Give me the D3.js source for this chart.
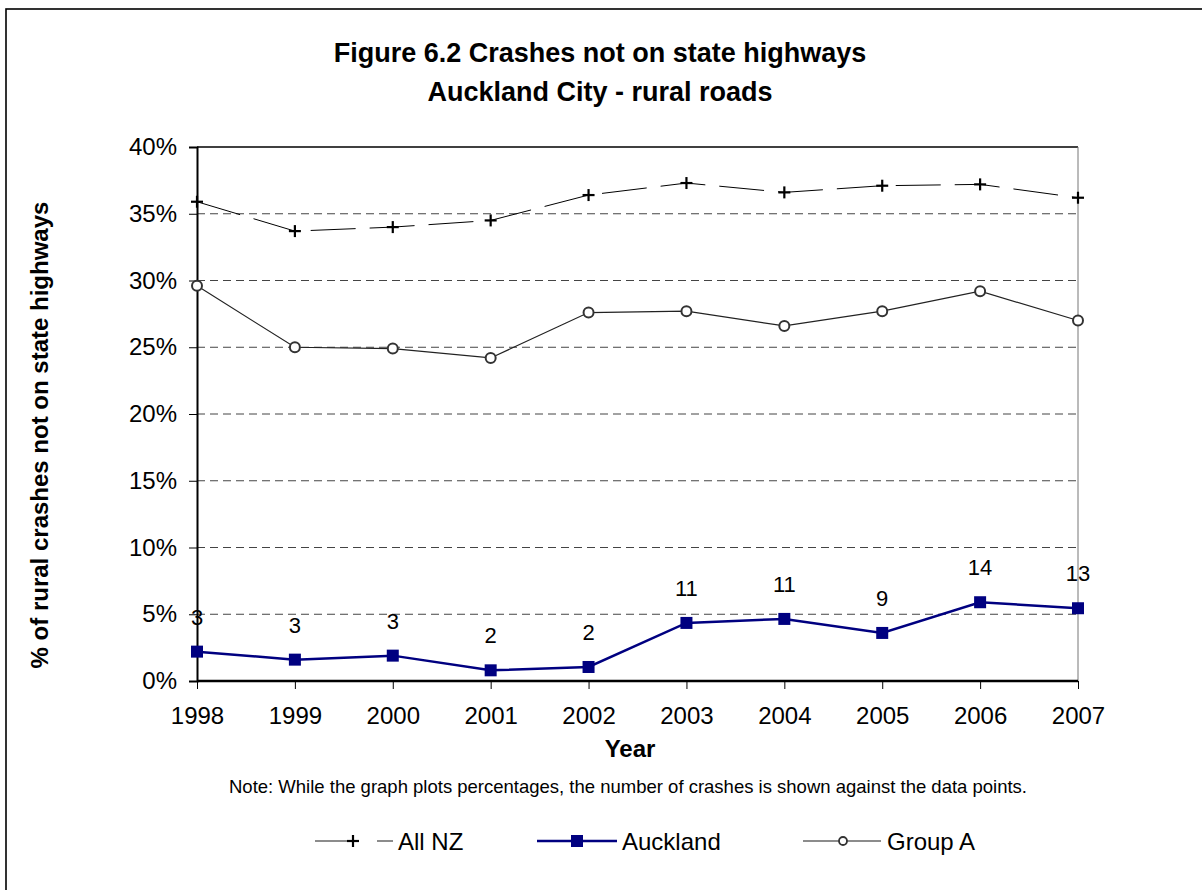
<!DOCTYPE html>
<html><head><meta charset="utf-8">
<script src="https://cdn.jsdelivr.net/npm/d3@7"></script>
<style>body{margin:0;background:#fff}svg{display:block}text{font-family:"Liberation Sans",Arial,sans-serif;fill:#000}</style>
</head><body>
<svg id="c" width="1202" height="890"></svg>
<script>
const years = ["1998","1999","2000","2001","2002","2003","2004","2005","2006","2007"];
const allNZ = [35.9,33.7,34.0,34.5,36.4,37.3,36.6,37.1,37.2,36.2];
const auckland = [2.2,1.6,1.9,0.8,1.05,4.35,4.65,3.6,5.9,5.45];
const groupA = [29.6,25.0,24.9,24.2,27.6,27.7,26.6,27.7,29.2,27.0];
const crashCounts = [3,3,3,2,2,11,11,9,14,13];
const yTicks = [0,5,10,15,20,25,30,35,40];

const FF = "Liberation Sans, Arial, sans-serif";
const svg = d3.select("#c");
// outer frame
svg.append("rect").attr("x",6).attr("y",9).attr("width",1210).attr("height",900)
  .attr("fill","none").attr("stroke","#000").attr("stroke-width",1.6);

const L=197,R=1078,T=147,B=681;
const x = d3.scalePoint().domain(years).range([L,R]);
const y = d3.scaleLinear().domain([0,40]).range([B,T]);

// title
svg.append("text").attr("x",600).attr("y",62).attr("text-anchor","middle")
  .attr("font-size",27).attr("font-weight","bold").text("Figure 6.2 Crashes not on state highways");
svg.append("text").attr("x",600).attr("y",101).attr("text-anchor","middle")
  .attr("font-size",27).attr("font-weight","bold").text("Auckland City - rural roads");

// gridlines
svg.append("g").selectAll("line").data(yTicks.filter(d=>d>0&&d<40)).join("line")
  .attr("x1",L).attr("x2",R).attr("y1",d=>y(d)).attr("y2",d=>y(d))
  .attr("stroke","#444").attr("stroke-width",1).attr("stroke-dasharray","8,5");

// plot border top/right
svg.append("line").attr("x1",L).attr("x2",R).attr("y1",T).attr("y2",T).attr("stroke","#000").attr("stroke-width",1.5);
svg.append("line").attr("x1",R).attr("x2",R).attr("y1",T).attr("y2",B).attr("stroke","#777").attr("stroke-width",1);

// axes
const yAxis = d3.axisLeft(y).tickValues(yTicks).tickFormat(d=>d+"%").tickSize(8).tickPadding(12);
const gy = svg.append("g").attr("transform",`translate(${L},0)`).call(yAxis);
gy.select(".domain").attr("stroke","#000").attr("stroke-width",2);
gy.selectAll(".tick line").attr("stroke","#000");
gy.selectAll("text").attr("font-size",24).attr("font-family",FF).attr("fill","#000");

const xAxis = d3.axisBottom(x).tickSize(8).tickPadding(18);
const gx = svg.append("g").attr("transform",`translate(0,${B})`).call(xAxis);
gx.select(".domain").attr("stroke","#000").attr("stroke-width",2.5).attr("d",`M${L},0H${R}`);
gx.selectAll(".tick line").attr("stroke","#000");
gx.selectAll("text").attr("font-size",24).attr("font-family",FF).attr("fill","#000");

// axis titles
svg.append("text").attr("x",630).attr("y",757).attr("text-anchor","middle")
  .attr("font-size",24).attr("font-weight","bold").text("Year");
svg.append("text").attr("transform","translate(48,435) rotate(-90)").attr("text-anchor","middle")
  .attr("font-size",24).attr("font-weight","bold").text("% of rural crashes not on state highways");

svg.append("text").attr("x",628).attr("y",793).attr("text-anchor","middle")
  .attr("font-size",18.5).text("Note:  While the graph plots percentages, the number of crashes is shown against the data points.");

const line = d3.line().x((d,i)=>x(years[i])).y(d=>y(d));

// All NZ
svg.append("path").datum(allNZ).attr("d",line).attr("fill","none")
  .attr("stroke","#000").attr("stroke-width",1).attr("stroke-dasharray","45,14");
const plus = (g,cx,cy,s)=>{g.append("line").attr("x1",cx-s).attr("x2",cx+s).attr("y1",cy).attr("y2",cy).attr("stroke","#000").attr("stroke-width",2.2);
  g.append("line").attr("x1",cx).attr("x2",cx).attr("y1",cy-s).attr("y2",cy+s).attr("stroke","#000").attr("stroke-width",2.2);};
const gp = svg.append("g");
allNZ.forEach((v,i)=>plus(gp,x(years[i]),y(v),6));

// Group A
svg.append("path").datum(groupA).attr("d",line).attr("fill","none")
  .attr("stroke","#222").attr("stroke-width",1.2);
svg.append("g").selectAll("circle").data(groupA).join("circle")
  .attr("cx",(d,i)=>x(years[i])).attr("cy",d=>y(d)).attr("r",5)
  .attr("fill","#fff").attr("stroke","#333").attr("stroke-width",2);

// Auckland
svg.append("path").datum(auckland).attr("d",line).attr("fill","none")
  .attr("stroke","#000080").attr("stroke-width",2.5);
svg.append("g").selectAll("rect").data(auckland).join("rect")
  .attr("x",(d,i)=>x(years[i])-6).attr("y",d=>y(d)-6).attr("width",12).attr("height",12)
  .attr("fill","#000080");
svg.append("g").selectAll("text").data(auckland).join("text")
  .attr("x",(d,i)=>x(years[i])).attr("y",d=>y(d)-27).attr("text-anchor","middle")
  .attr("font-size",22).text((d,i)=>crashCounts[i]);

// legend
const ly=841;
const lg = svg.append("g");
lg.append("line").attr("x1",315).attr("x2",356).attr("y1",ly).attr("y2",ly).attr("stroke","#666").attr("stroke-width",1.5);
lg.append("line").attr("x1",377).attr("x2",393).attr("y1",ly).attr("y2",ly).attr("stroke","#666").attr("stroke-width",1.5);
plus(lg,353,ly,6);
lg.append("text").attr("x",398).attr("y",ly+9).attr("font-size",24).text("All NZ");
lg.append("line").attr("x1",537).attr("x2",617).attr("y1",ly).attr("y2",ly).attr("stroke","#000080").attr("stroke-width",2.5);
lg.append("rect").attr("x",571).attr("y",ly-6).attr("width",12).attr("height",12).attr("fill","#000080");
lg.append("text").attr("x",622).attr("y",ly+9).attr("font-size",24).text("Auckland");
lg.append("line").attr("x1",803).attr("x2",881).attr("y1",ly).attr("y2",ly).attr("stroke","#666").attr("stroke-width",1.5);
lg.append("circle").attr("cx",843).attr("cy",ly).attr("r",4).attr("fill","#fff").attr("stroke","#333").attr("stroke-width",1.8);
lg.append("text").attr("x",887).attr("y",ly+9).attr("font-size",24).text("Group A");
</script>
</body></html>
